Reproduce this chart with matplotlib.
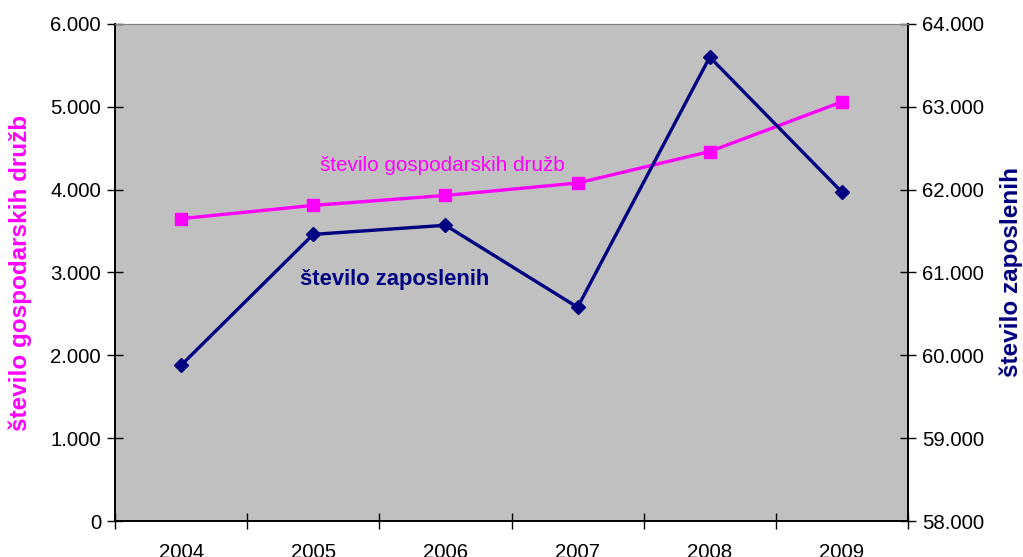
import matplotlib.pyplot as plt
from matplotlib.ticker import FuncFormatter, FixedLocator

plt.rcParams['font.family'] = ['Liberation Sans', 'DejaVu Sans']

years = ['2004', '2005', '2006', '2007', '2008', '2009']
druzbe = [3650, 3810, 3930, 4080, 4460, 5060]
zaposleni = [59880, 61460, 61570, 60580, 63600, 61970]

pink = '#FF00FF'
navy = '#000080'


def dots(v, pos):
    return f'{int(round(v)):,}'.replace(',', '.')


fig = plt.figure(figsize=(10.23, 5.57), dpi=100)
ax = fig.add_axes([0.1124, 0.0646, 0.7752, 0.8924])
ax.set_facecolor('#C0C0C0')
x = list(range(len(years)))
ax.plot(x, druzbe, color=pink, lw=2.4, marker='s', ms=8, zorder=3)
ax.set_xlim(-0.5, len(years) - 0.5)
ax.set_ylim(0, 6000)
ax.set_yticks(range(0, 6001, 1000))
ax.yaxis.set_major_formatter(FuncFormatter(dots))
ax.set_xticks(x)
ax.set_xticklabels(years)
ax.xaxis.set_minor_locator(FixedLocator([i + 0.5 for i in range(-1, len(years))]))
ax.tick_params(axis='x', which='major', length=0, pad=16, labelsize=14.7)
ax.tick_params(axis='x', which='minor', direction='inout', length=12, width=1)
ax.tick_params(axis='y', direction='inout', length=12, width=1, labelsize=14.7, pad=4)
ax.set_ylabel('število gospodarskih družb', color=pink, fontsize=17.5,
              fontweight='bold', labelpad=13)

ax2 = ax.twinx()
ax2.plot(x, zaposleni, color=navy, lw=2.4, marker='D', ms=7, zorder=4)
ax2.set_ylim(58000, 64000)
ax2.set_yticks(range(58000, 64001, 1000))
ax2.yaxis.set_major_formatter(FuncFormatter(dots))
ax2.tick_params(axis='y', direction='inout', length=12, width=1, labelsize=14.7, pad=4)
ax2.set_ylabel('število zaposlenih', color=navy, fontsize=17.5,
               fontweight='bold', labelpad=11)

for a in (ax, ax2):
    a.spines['top'].set_color('#808080')
    for s in ('left', 'right', 'bottom'):
        a.spines[s].set_color('black')
        a.spines[s].set_linewidth(1.2)

ax.text(1.05, 4290, 'število gospodarskih družb', color=pink, fontsize=14.9,
        ha='left', va='center')
ax.text(0.9, 2920, 'število zaposlenih', color=navy, fontsize=15.8,
        fontweight='bold', ha='left', va='center')

fig.savefig('out.png', dpi=100)
